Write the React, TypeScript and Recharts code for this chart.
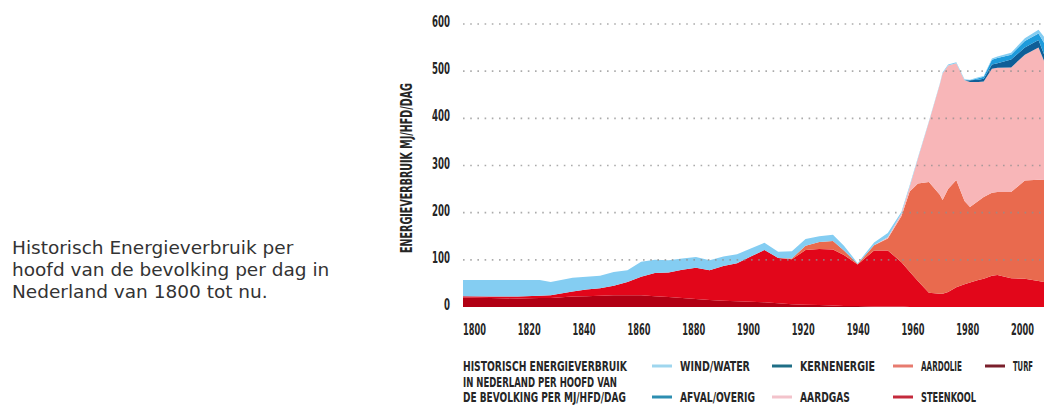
import React from 'react';
import { AreaChart, Area, XAxis, YAxis, ReferenceLine } from 'recharts';

const years = [1800, 1810, 1820, 1828, 1832, 1840, 1845, 1850, 1855, 1860, 1865, 1870, 1875, 1880, 1885, 1890, 1895, 1900, 1905, 1910, 1915, 1920, 1925, 1930, 1935, 1939, 1944, 1950, 1955, 1960, 1963, 1966, 1970, 1974, 1975, 1977, 1980, 1983, 1985, 1988, 1990, 1993, 1995, 2000, 2005, 2010, 2012];

const turf = [20, 19, 18, 19, 19, 22, 23, 24, 25, 25, 25, 23, 21, 19, 17, 15, 13, 12, 11, 10, 8, 6, 5, 4, 3, 2, 2, 1, 1, 1, 0, 0, 0, 0, 0, 0, 0, 0, 0, 0, 0, 0, 0, 0, 0, 0, 0];
const steenkool = [3, 3, 4, 5, 6, 11, 14, 16, 20, 28, 39, 49, 52, 60, 66, 63, 74, 81, 96, 111, 96, 95, 116, 119, 119, 108, 88, 119, 119, 94, 75, 55, 30, 28, 28, 32, 42, 48, 52, 57, 60, 66, 68, 61, 60, 55, 53];
const aardolie = [0, 0, 0, 0, 0, 0, 0, 0, 0, 0, 0, 0, 0, 0, 0, 0, 0, 0, 0, 0, 0, 2, 9, 15, 18, 10, 1, 11, 25, 98, 170, 207, 235, 210, 199, 218, 227, 177, 160, 168, 173, 176, 176, 183, 208, 215, 216];
const aardgas = [0, 0, 0, 0, 0, 0, 0, 0, 0, 0, 0, 0, 0, 0, 0, 0, 0, 0, 0, 0, 0, 0, 0, 0, 0, 0, 0, 0, 3, 5, 10, 53, 127, 234, 268, 262, 248, 256, 265, 252, 245, 263, 263, 264, 267, 280, 253];
const kernenergie = [0, 0, 0, 0, 0, 0, 0, 0, 0, 0, 0, 0, 0, 0, 0, 0, 0, 0, 0, 0, 0, 0, 0, 0, 0, 0, 0, 0, 0, 0, 0, 0, 0, 0, 0, 0, 0, 0, 4, 5, 6, 9, 10, 17, 15, 16, 14];
const afval = [0, 0, 0, 0, 0, 0, 0, 0, 0, 0, 0, 0, 0, 0, 0, 0, 0, 0, 0, 0, 0, 0, 0, 0, 0, 0, 0, 0, 0, 0, 0, 0, 0, 0, 0, 0, 0, 0, 0, 3, 4, 10, 11, 10, 14, 14, 24];
const windWater = [34, 35, 35, 33, 28, 29, 27, 26, 29, 25, 32, 28, 26, 24, 23, 21, 20, 19, 17, 15, 13, 15, 14, 12, 13, 10, 2, 6, 9, 4, 3, 2, 2, 2, 2, 2, 2, 2, 1, 2, 2, 3, 3, 4, 6, 8, 13];

const xTicks = [1800, 1820, 1840, 1860, 1880, 1900, 1920, 1940, 1960, 1980, 2000];
const yTicks = [0, 100, 200, 300, 400, 500, 600];

// stacking order: first = bottom
const seriesKeys = ['turf', 'steenkool', 'aardolie', 'aardgas', 'kernenergie', 'afval', 'wind'];
const seriesNames = ['TURF', 'STEENKOOL', 'AARDOLIE', 'AARDGAS', 'KERNENERGIE', 'AFVAL/OVERIG', 'WIND/WATER'];
const seriesFills = ['#b10014', '#e2061a', '#e96a4e', '#f8b6b8', '#0f5e97', '#1e9bdb', '#84cdf2'];
const legendColors = ['#7a1f2b', '#c42a3c', '#e77b6f', '#f3c3cb', '#1f6e86', '#2d8eb1', '#9fd6ee'];
const seriesValues = [turf, steenkool, aardolie, aardgas, kernenergie, afval, windWater];

const legendTitle = ['HISTORISCH ENERGIEVERBRUIK', 'IN NEDERLAND PER HOOFD VAN', 'DE BEVOLKING PER MJ/HFD/DAG'];
const introLines = ['Historisch Energieverbruik per', 'hoofd van de bevolking per dag in', 'Nederland van 1800 tot nu.'];
const yAxisTitle = 'ENERGIEVERBRUIK MJ/HFD/DAG';

const data = years.map((y, i) => {
  const row: Record<string, number> = { year: y };
  seriesKeys.forEach((k, j) => {
    row[k] = seriesValues[j][i];
  });
  return row;
});

const COND = '"Liberation Sans Narrow", "DejaVu Sans Condensed", "Roboto Condensed", sans-serif';

let measureCtx: CanvasRenderingContext2D | null = null;
function measure(text: string, size: number): number {
  if (!measureCtx) {
    const c = document.createElement('canvas');
    measureCtx = c.getContext('2d');
  }
  if (!measureCtx) return text.length * size * 0.5;
  measureCtx.font = `bold ${size}px ${COND}`;
  return measureCtx.measureText(text).width || text.length * size * 0.5;
}

// condensed text squeezed horizontally to a target width
function CondText(props: { x: number; y: number; text: string; width: number; size: number; anchor?: string; rotate?: number; fill?: string; baseline?: string }) {
  const { x, y, text, width, size, anchor = 'start', rotate = 0, fill = '#262626', baseline } = props;
  const sx = width / measure(text, size);
  const tr = `translate(${x},${y})${rotate ? ` rotate(${rotate})` : ''} scale(${sx},1)`;
  return (
    <text x={0} y={0} transform={tr} textAnchor={anchor} dominantBaseline={baseline} fontFamily={COND}
      fontWeight={700} fontSize={size} fill={fill}>{text}</text>
  );
}

const YTick = (props: any) => {
  const { x, y, payload } = props;
  const s = String(payload.value);
  return <CondText x={x} y={y + 3} text={s} width={s.length * 6} size={16} anchor="end" />;
};

const XTick = (props: any) => {
  const { x, y, payload } = props;
  const s = String(payload.value);
  return <CondText x={x} y={y} text={s} width={23} size={16} />;
};

// legend layout: [seriesIndex, column, row]
const legendLayout: [number, number, number][] = [
  [6, 0, 0], [4, 1, 0], [2, 2, 0], [0, 3, 0],
  [5, 0, 1], [3, 1, 1], [1, 2, 1],
];
const legendColX = [652, 772, 893, 985];
const legendRowY = [366, 397];
const legendTextW: Record<string, number> = {
  'WIND/WATER': 70, 'KERNENERGIE': 75, 'AARDOLIE': 41, 'TURF': 20,
  'AFVAL/OVERIG': 75, 'AARDGAS': 50, 'STEENKOOL': 55,
};
const titleW = [164, 154, 163];
const titleY = [366, 381.5, 397];

export default function App() {
  return (
    <div style={{ position: 'absolute', left: 0, top: 0, width: 1044, height: 407, overflow: 'hidden', background: '#fff' }}>
      <div style={{ position: 'absolute', left: 12, top: 237, fontFamily: '"DejaVu Sans", sans-serif', fontSize: 18.5, lineHeight: '22px', color: '#333', whiteSpace: 'nowrap' }}>
        {introLines.map((l, i) => (<div key={i}>{l}</div>))}
      </div>
      <div style={{ position: 'absolute', left: 0, top: 0 }}>
        <AreaChart width={1044} height={407} data={data} margin={{ top: 24, right: 0, bottom: 0, left: 0 }}>
          <XAxis dataKey="year" type="number" domain={[1800, 2012]} ticks={xTicks} allowDataOverflow
            axisLine={false} tickLine={false} tickSize={0} tickMargin={28} height={100} tick={<XTick />} interval={0} />
          <YAxis type="number" domain={[0, 600]} ticks={yTicks} axisLine={false} tickLine={false}
            tickSize={0} tickMargin={13} width={463} tick={<YTick />} interval={0} />
          {seriesKeys.map((k, j) => (
            <Area key={k} type="linear" dataKey={k} name={seriesNames[j]} stackId="a" fill={seriesFills[j]}
              fillOpacity={1} stroke="none" isAnimationActive={false} dot={false} activeDot={false} />
          ))}
          {yTicks.filter((t) => t > 0).map((t) => (
            <ReferenceLine key={t} y={t} stroke="#8f8f8f" strokeOpacity={0.75} strokeWidth={1.6} strokeDasharray="1.6 5.6" />
          ))}
        </AreaChart>
      </div>
      <svg width={1044} height={407} style={{ position: 'absolute', left: 0, top: 0, pointerEvents: 'none' }}>
        <CondText x={407} y={168} text={yAxisTitle} width={170} size={15} anchor="middle" rotate={-90} baseline="central" />
        {legendTitle.map((t, i) => (
          <CondText key={i} x={463} y={titleY[i] + 5} text={t} width={titleW[i]} size={14} />
        ))}
        {legendLayout.map(([si, c, r]) => {
          const x = legendColX[c];
          const y = legendRowY[r];
          const name = seriesNames[si];
          return (
            <g key={name}>
              <line x1={x} x2={x + 20} y1={y} y2={y} stroke={legendColors[si]} strokeWidth={3} />
              <CondText x={x + 28} y={y + 5} text={name} width={legendTextW[name]} size={14} />
            </g>
          );
        })}
      </svg>
    </div>
  );
}
